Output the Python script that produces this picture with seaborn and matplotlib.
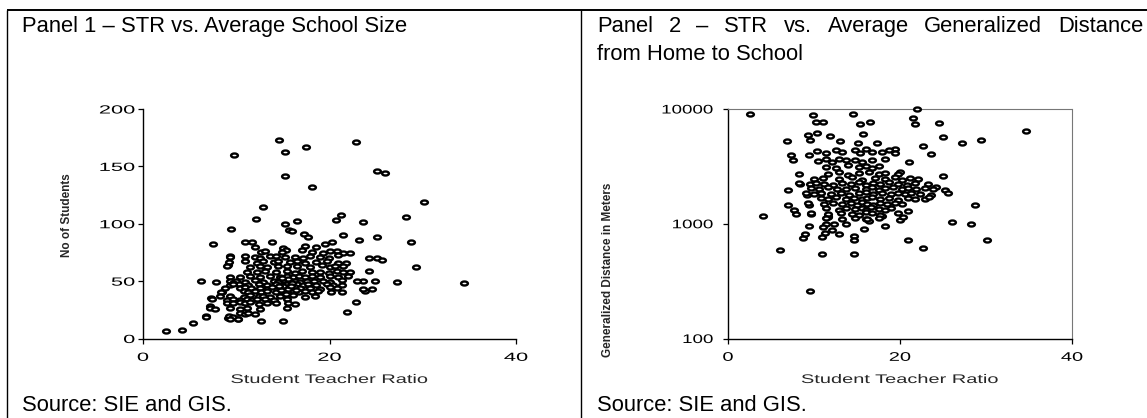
import matplotlib
matplotlib.use("Agg")
import matplotlib.pyplot as plt
import numpy as np
import pandas as pd
import seaborn as sns
from matplotlib.lines import Line2D
from matplotlib.path import Path
from matplotlib.markers import MarkerStyle
from matplotlib.transforms import Affine2D
from matplotlib.ticker import NullLocator
from matplotlib.patheffects import AbstractPathEffect

# ---------------------------------------------------------------------------
# Panel 1: student teacher ratio vs. number of students per school
# ---------------------------------------------------------------------------
p1_ratio = [
    2.5, 4.2, 5.4, 6.2, 6.8, 7.3, 7.5, 7.8, 7.2, 8.5,
    9.1, 9.3, 9.4, 9.8, 10.2, 9.1, 10.9, 11.7, 12.1, 12.9,
    12.7, 13.8, 14.6, 15.0, 15.2, 15.2, 15.2, 15.7, 16.0, 16.5,
    17.5, 18.1, 17.3, 17.7, 20.7, 21.2, 21.5, 21.9, 22.8, 22.8,
    23.2, 23.6, 23.6, 24.2, 23.8, 24.6, 25.1, 26.0, 25.1, 25.1,
    27.2, 28.2, 28.7, 29.3, 30.1, 34.4, 24.9,
    17.4, 18.5, 19.5, 20.3, 15.0, 15.3, 12.0,
    12.7, 13.1, 14.9, 17.0, 18.1, 19.3, 20.1, 20.8, 21.5, 22.2,
    9.3, 10.9, 12.0, 12.5, 13.6, 14.3, 15.2, 16.3, 17.2, 17.9, 19.0, 19.9, 20.9, 24.2, 25.6,
    9.2, 10.9, 12.2, 12.9, 14.0, 14.5, 15.8, 16.5, 17.4, 18.6, 19.7, 20.9, 21.8,
    9.0, 11.5, 12.5, 13.3, 14.5, 15.4, 16.5, 17.9, 19.2, 20.1, 20.6, 21.5,
    11.1, 12.2, 13.1, 14.3, 15.4, 16.3, 17.0, 18.1, 19.0, 19.9, 20.8, 21.5, 22.2,
    9.3, 10.4, 11.5, 12.5, 13.6, 14.7, 15.4, 16.1, 16.7, 17.4, 18.1, 19.0, 20.0, 20.9, 22.0,
    9.3, 10.0, 10.9, 12.0, 12.9, 14.0, 14.5, 15.1, 15.8, 16.3, 16.8, 17.6, 18.3, 19.3, 20.0, 21.3, 22.9, 10.3, 9.7,
    9.3, 9.7, 11.3, 12.4, 13.3, 14.3, 14.9, 15.4, 15.9, 16.5, 17.2, 17.7, 18.6, 19.7, 20.4, 21.3,
    8.8, 10.4, 10.9, 11.6, 12.5, 13.3, 13.8, 14.7, 15.2, 15.8, 16.3, 16.8, 17.9, 19.0, 20.0, 20.8, 23.6,
    8.4, 10.8, 11.3, 12.0, 12.7, 13.3, 14.3, 15.0, 15.6, 16.1, 16.7, 17.4, 18.1, 18.8, 20.2, 21.3,
    8.3, 9.3, 10.8, 11.5, 12.4, 12.9, 13.6, 14.7, 15.4, 16.1, 17.4, 18.4,
    7.4, 9.0, 9.7, 10.4, 11.1, 11.7, 12.2, 13.1, 14.0, 15.4,
    9.0, 9.7, 10.4, 10.9, 11.5, 12.4, 13.3, 14.3, 15.6, 16.3,
    7.2, 7.7, 9.3, 10.4, 11.1, 12.5, 15.4,
    10.4, 10.9, 11.3, 12.0, 6.8, 9.2, 9.7, 9.3, 10.2,
    15.0, 15.5, 16.0, 14.8, 15.3, 15.9, 14.6, 15.6, 14.9, 16.4,
]
p1_students = [
    6.7, 7.6, 13.4, 50.3, 19.8, 34.9, 82.0, 49.4, 27.9, 40.4,
    64.2, 72.0, 95.3, 159.6, 16.9, 17.7, 84.0, 84.0, 104.0, 114.8,
    15.4, 84.0, 173.0, 15.4, 162.8, 141.3, 99.7, 94.2, 93.3, 102.6,
    166.9, 132.3, 91.3, 88.7, 102.9, 107.6, 89.8, 23.0, 171.2, 31.4,
    85.5, 101.5, 50.3, 58.4, 41.0, 43.0, 146.2, 143.9, 88.4, 70.1,
    49.1, 105.5, 84.0, 62.5, 118.9, 48.1, 50.3,
    80.5, 79.8, 82.6, 84.2, 79.0, 77.5, 80.0,
    75.5, 76.4, 75.2, 76.8, 75.0, 74.6, 76.3, 75.9, 74.3, 74.8,
    71.0, 72.2, 71.3, 70.5, 72.0, 71.6, 70.8, 71.4, 69.9, 72.3, 71.0, 70.2, 72.5, 69.8, 68.7,
    66.6, 67.4, 66.2, 67.8, 66.5, 67.9, 66.7, 67.3, 65.8, 66.9, 67.6, 66.0, 65.4,
    63.1, 62.6, 63.5, 62.2, 63.6, 62.8, 63.2, 62.5, 63.8, 62.1, 63.4, 62.9,
    58.2, 57.6, 58.8, 57.9, 58.4, 57.3, 58.6, 57.8, 58.1, 57.4, 58.7, 57.6, 58.3,
    54.0, 53.6, 54.4, 53.8, 54.2, 53.5, 54.6, 53.9, 54.3, 53.2, 54.7, 53.8, 54.1, 53.4, 54.8,
    49.8, 50.4, 49.6, 50.6, 49.3, 50.2, 49.5, 50.7, 49.9, 50.3, 49.4, 50.5, 49.7, 50.1, 49.3, 50.6, 50.0, 47.8, 48.5,
    46.8, 47.3, 46.5, 47.4, 46.9, 47.6, 46.4, 47.2, 46.7, 47.5, 46.3, 47.1, 46.8, 47.4, 46.5, 47.0,
    44.2, 43.6, 44.5, 43.8, 44.3, 43.5, 44.6, 43.9, 44.4, 43.3, 44.8, 43.7, 44.1, 43.4, 44.6, 43.8, 43.5,
    40.8, 41.3, 40.5, 41.6, 40.9, 41.4, 40.3, 41.7, 40.7, 41.2, 40.4, 41.5, 40.6, 41.1, 40.2, 40.9,
    36.8, 37.4, 36.5, 37.6, 36.9, 37.3, 36.4, 37.2, 36.7, 37.5, 36.3, 37.1,
    34.2, 33.7, 34.5, 33.9, 34.3, 33.5, 34.6, 34.0, 33.6, 34.4,
    31.2, 30.6, 31.4, 30.8, 31.6, 30.4, 31.1, 30.7, 31.3, 30.5,
    26.3, 25.7, 26.4, 25.8, 26.6, 25.9, 26.2,
    22.4, 21.7, 22.2, 21.5, 19.0, 19.4, 18.6, 16.8, 17.2,
    45.5, 43.0, 48.5, 42.0, 39.0, 45.8, 46.0, 51.5, 52.5, 42.5,
]

# ---------------------------------------------------------------------------
# Panel 2: student teacher ratio vs. generalized distance (metres, log scale)
# ---------------------------------------------------------------------------
p2_ratio = [
    2.5, 4.1, 6.1, 6.9, 7.0, 7.3, 7.6, 7.0, 7.7, 7.9,
    8.2, 8.4, 8.7, 9.0, 9.2, 9.4, 9.4, 9.3, 9.5, 9.5,
    9.7, 9.4, 9.9, 10.2, 11.0, 10.3, 10.9, 11.3, 11.4, 11.9,
    13.0, 14.5, 14.6, 14.7, 14.7, 15.4, 16.5, 15.7, 15.1, 17.3,
    19.4, 20.0, 21.0, 22.0, 21.5, 21.8, 24.5, 25.0, 22.7, 23.6,
    25.0, 24.2, 25.2, 25.6, 27.2, 29.4, 28.7, 26.0, 28.3, 30.1,
    20.9, 22.7, 20.9, 20.0, 20.4, 17.9, 18.2, 16.0, 16.4, 15.8,
    11.6, 12.3, 12.1, 12.9, 13.7, 10.9, 11.1, 11.6, 34.7,
    10.4, 11.4, 12.5, 13.3, 14.8, 15.4, 16.0, 16.7, 17.9, 18.7, 19.4,
    10.5, 11.4, 12.1, 12.9, 13.7, 14.8, 15.6, 16.7, 18.3,
    11.4, 12.5, 13.9, 15.2, 16.0, 16.7, 17.5,
    11.6, 12.9, 13.9, 15.2, 16.4, 17.5, 18.3, 19.8,
    10.0, 11.0, 12.9, 14.4, 15.6, 17.1, 18.3, 19.4, 20.2, 21.2, 22.1,
    8.3, 9.5, 10.2, 11.2, 12.2, 13.3, 14.3, 15.2, 16.0, 16.9, 17.7, 18.7, 19.8, 20.8, 21.7, 23.3,
    9.7, 10.6, 11.6, 12.7, 13.7, 14.8, 16.0, 16.7, 17.5, 18.3, 19.2, 20.2, 20.9, 21.9, 22.9, 23.8,
    9.1, 10.0, 10.8, 12.0, 13.1, 14.1, 15.2, 16.0, 16.9, 17.9, 18.9, 19.8, 20.6, 21.3, 22.3, 23.6,
    10.8, 11.6, 12.5, 13.7, 14.6, 15.6, 16.2, 16.7, 17.7, 18.7, 19.8, 20.9, 21.7, 22.9, 23.4,
    9.3, 11.2, 12.2, 13.3, 14.3, 15.0, 15.6, 16.2, 16.9, 17.7, 18.5, 19.4, 20.2,
    11.4, 12.9, 13.7, 14.8, 15.6, 16.0, 16.6, 17.5, 18.3, 18.9,
    9.7, 11.6, 13.1, 14.4, 15.2, 16.0, 16.7, 17.7, 19.8,
    11.4, 13.3, 14.8, 16.2, 17.5,
]
p2_distance = [
    9100, 1160, 590, 5290, 1960, 4000, 3630, 1450, 1310, 1210,
    2720, 2200, 750, 810, 1780, 1460, 3990, 5900, 5400, 259,
    1210, 960, 8780, 7760, 7760, 6200, 550, 830, 1000, 5800,
    5300, 8970, 540, 780, 720, 7450, 7700, 6010, 5090, 5090,
    4480, 2820, 3470, 10000, 8290, 7390, 7590, 5690, 4720, 4080,
    2610, 2090, 1960, 1860, 5090, 5360, 1450, 1030, 1000, 720,
    720, 620, 1290, 1080, 1140, 1160, 965, 1090, 1060, 900,
    1150, 1000, 880, 820, 1000, 760, 930, 1170, 6480,
    4300, 4150, 4400, 4200, 4350, 4100, 4450, 4250, 4180, 4380, 4120,
    3550, 3650, 3480, 3700, 3560, 3620, 3450, 3580, 3670,
    3150, 3080, 3220, 3100, 3180, 3050, 3160,
    2700, 2800, 2680, 2760, 2820, 2710, 2790, 2740,
    2450, 2520, 2470, 2540, 2430, 2510, 2460, 2530, 2420, 2500, 2440,
    2250, 2200, 2280, 2230, 2190, 2270, 2210, 2290, 2180, 2260, 2220, 2300, 2240, 2190, 2270, 2210,
    2050, 2000, 2080, 2020, 1990, 2060, 2010, 2070, 1980, 2040, 2090, 2000, 2060, 1990, 2030, 2010,
    1850, 1800, 1870, 1810, 1860, 1790, 1840, 1880, 1820, 1850, 1800, 1870, 1830, 1860, 1810, 1780,
    1680, 1640, 1700, 1650, 1690, 1630, 1670, 1710, 1650, 1680, 1620, 1690, 1650, 1640, 1700,
    1520, 1480, 1530, 1490, 1510, 1470, 1540, 1500, 1460, 1520, 1490, 1530, 1480,
    1360, 1330, 1380, 1340, 1370, 1320, 1390, 1350, 1330, 1380,
    1240, 1210, 1250, 1220, 1200, 1260, 1230, 1190, 1240,
    1120, 1090, 1130, 1100, 1120,
]

p1_xticks = [0, 20, 40]
p1_yticks = [0, 50, 100, 150, 200]
p2_xticks = [0, 20, 40]
p2_yticks = [100, 1000, 10000]
p2_yticklabels = ["100", "1000", "10000"]

titles_p1 = "Panel 1 \u2013 STR vs. Average School Size"
title_p2_line1 = ["Panel", "2", "\u2013", "STR", "vs.", "Average", "Generalized", "Distance"]
title_p2_line2 = "from Home to School"
source_text = "Source: SIE and GIS."


class WideGlyphs(AbstractPathEffect):
    """Draw text glyphs stretched horizontally around an anchor edge."""

    def __init__(self, factor, anchor="center"):
        super().__init__()
        self.factor = factor
        self.anchor = anchor

    def draw_path(self, renderer, gc, tpath, affine, rgbFace=None):
        if len(tpath.vertices) == 0:
            renderer.draw_path(gc, tpath, affine, rgbFace)
            return
        ext = tpath.get_extents(affine)
        if self.anchor == "right":
            cx = ext.x1
        elif self.anchor == "left":
            cx = ext.x0
        else:
            cx = 0.5 * (ext.x0 + ext.x1)
        stretch = Affine2D().translate(-cx, 0).scale(self.factor, 1.0).translate(cx, 0)
        renderer.draw_path(gc, tpath, affine + stretch, rgbFace)


sns.set_theme(style="ticks")
plt.rcParams["font.family"] = ["Liberation Sans", "DejaVu Sans"]
plt.rcParams["text.color"] = "black"
plt.rcParams["axes.edgecolor"] = "black"
plt.rcParams["xtick.color"] = "black"
plt.rcParams["ytick.color"] = "black"

W, H = 1147, 418
fig = plt.figure(figsize=(W / 100, H / 100), dpi=100, facecolor="white")


def fx(px):
    return px / W


def fy(py):
    return 1 - py / H


ax_top, ax_bot = 109, 338.5
ax1 = fig.add_axes([fx(143), fy(ax_bot), (516 - 143) / W, (ax_bot - ax_top) / H])
ax2 = fig.add_axes([fx(728), fy(ax_bot), (1072 - 728) / W, (ax_bot - ax_top) / H])

oval = MarkerStyle(Path.unit_circle().transformed(Affine2D().scale(1.7, 1.0)))
marker_kws = dict(marker=oval, s=24, color="black", facecolor="white",
                  edgecolor="black", linewidth=1.7, clip_on=False, legend=False, zorder=3)

df1 = pd.DataFrame({"ratio": p1_ratio, "students": p1_students})
df2 = pd.DataFrame({"ratio": p2_ratio, "distance": p2_distance})

ax2.set_yscale("log")
sns.scatterplot(data=df1, x="ratio", y="students", ax=ax1, **marker_kws)
sns.scatterplot(data=df2, x="ratio", y="distance", ax=ax2, **marker_kws)

# --- panel 1 axes ---
ax1.set_xlim(0, 40)
ax1.set_ylim(0, 200)
ax1.set_xticks(p1_xticks)
ax1.set_yticks(p1_yticks)
for side in ("top", "right"):
    ax1.spines[side].set_visible(False)
for side in ("left", "bottom"):
    ax1.spines[side].set_linewidth(1.0)
ax1.tick_params(axis="both", direction="out", length=3.6, width=0.9, labelsize=8.5)
ax1.tick_params(axis="x", pad=6)
ax1.tick_params(axis="y", pad=2.2)

# --- panel 2 axes ---
ax2.set_xlim(0, 40)
ax2.set_ylim(100, 10000)
ax2.set_xticks(p2_xticks)
ax2.set_yticks(p2_yticks, labels=p2_yticklabels)
ax2.yaxis.set_minor_locator(NullLocator())
for side in ("left", "bottom"):
    ax2.spines[side].set_linewidth(1.0)
for side in ("top", "right"):
    ax2.spines[side].set_linestyle((0, (1, 1)))
    ax2.spines[side].set_color("#777777")
    ax2.spines[side].set_linewidth(0.8)
ax2.tick_params(axis="both", direction="out", length=3.6, width=0.9, labelsize=9)
ax2.tick_params(axis="x", pad=6)
ax2.tick_params(axis="y", pad=7)

# axis labels
for ax, ylab, ylab_x, ylab_y in (
    (ax1, "No of Students", (67 - 143) / 373, (ax_bot - 215) / (ax_bot - ax_top)),
    (ax2, "Generalized Distance in Meters", (608 - 728) / 344, (ax_bot - 270) / (ax_bot - ax_top)),
):
    ax.set_xlabel("Student Teacher Ratio", fontsize=9)
    ax.xaxis.set_label_coords(0.5, -(380 - ax_bot) / (ax_bot - ax_top))
    ax.xaxis.label.set_verticalalignment("center")
    ax.xaxis.label.set_path_effects([WideGlyphs(1.6)])
    ax.set_ylabel(ylab, fontsize=8.5, fontweight="bold")
    ax.yaxis.set_label_coords(ylab_x, ylab_y)
    ax.yaxis.label.set_verticalalignment("center")
    ax.yaxis.label.set_horizontalalignment("center")

for lbl in ax1.get_xticklabels():
    lbl.set_path_effects([WideGlyphs(1.85, "center")])
for lbl in ax1.get_yticklabels():
    lbl.set_path_effects([WideGlyphs(1.85, "right")])
for lbl in ax2.get_xticklabels():
    lbl.set_path_effects([WideGlyphs(1.6, "center")])
for lbl in ax2.get_yticklabels():
    lbl.set_path_effects([WideGlyphs(1.5, "right")])

# panel headings and sources
title_size = 15.8
source_baseline = 411
fig.text(fx(22), fy(32), titles_p1, fontsize=title_size, ha="left", va="baseline")
fig.text(fx(22), fy(source_baseline), source_text, fontsize=title_size, ha="left", va="baseline")

# justified first line of the second heading
renderer = fig.canvas.get_renderer()
words = [fig.text(0, fy(32), w, fontsize=title_size, ha="left", va="baseline")
         for w in title_p2_line1]
widths = [t.get_window_extent(renderer).width for t in words]
x_start, x_end = 597, 1143
gap = (x_end - x_start - sum(widths)) / (len(words) - 1)
x = x_start
for t, w in zip(words, widths):
    t.set_x(fx(x))
    x += w + gap
fig.text(fx(597), fy(60), title_p2_line2, fontsize=title_size, ha="left", va="baseline")
fig.text(fx(597), fy(source_baseline), source_text, fontsize=title_size, ha="left", va="baseline")

# frame lines around the two panels
frame_kws = dict(transform=fig.transFigure, color="black", solid_capstyle="butt")
fig.add_artist(Line2D([fx(7), 1.0], [fy(10), fy(10)], lw=1.4, **frame_kws))
fig.add_artist(Line2D([fx(7), fx(7)], [fy(10), 0.0], lw=1.0, **frame_kws))
fig.add_artist(Line2D([fx(581), fx(581)], [fy(10), 0.0], lw=1.0, **frame_kws))

fig.savefig("out.png", dpi=100, facecolor="white")
